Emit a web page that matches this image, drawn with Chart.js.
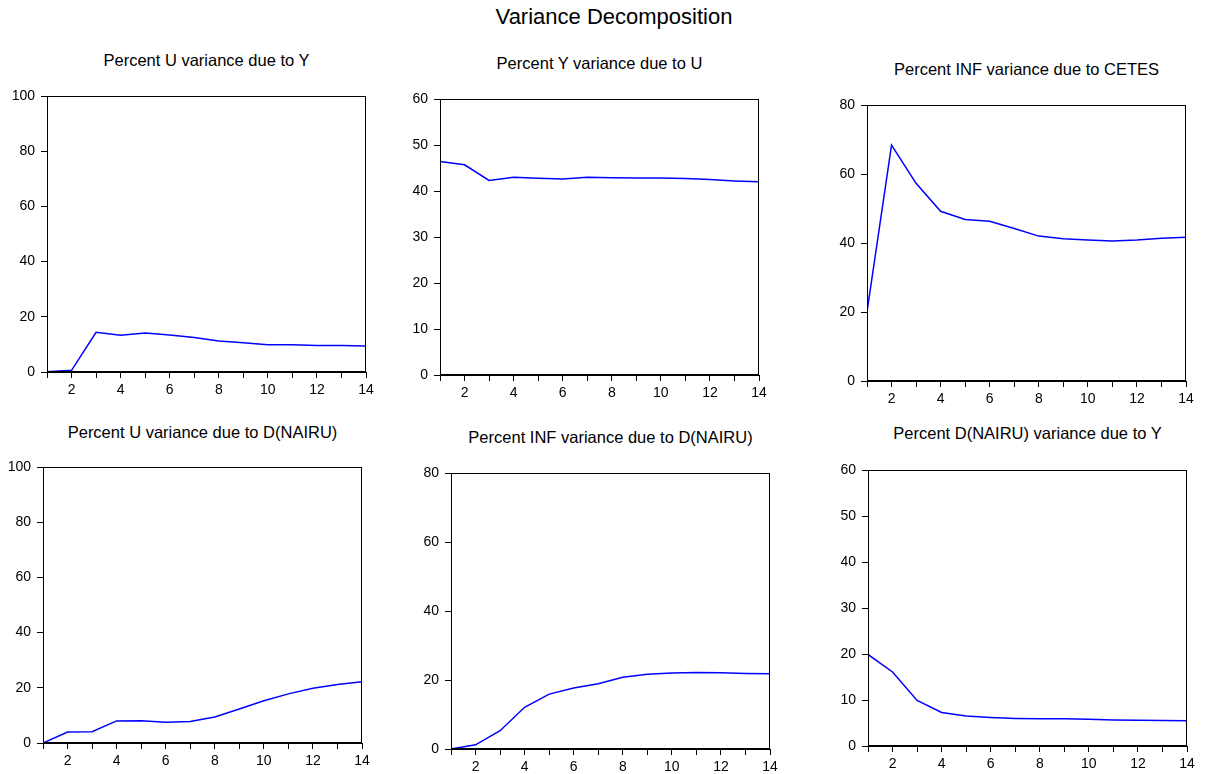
<!DOCTYPE html>
<html>
<head>
<meta charset="utf-8">
<title>Variance Decomposition</title>
<script src="https://cdn.jsdelivr.net/npm/chart.js@4.4.1/dist/chart.umd.min.js"></script>
<style>
  body { margin: 0; background: #fff; font-family: "Liberation Sans", Arial, sans-serif; }
  #page { position: relative; width: 1205px; height: 774px; overflow: hidden; }
  .title { position: absolute; transform: translate(-50%, -50%); white-space: nowrap; color: #000; line-height: 1; }
  .main-title { font-size: 22px; }
  .panel-title { font-size: 16.5px; }
  canvas { position: absolute; }
</style>
</head>
<body>
<div id="page"></div>
<script>
// --- DATA ---
const periods = [1, 2, 3, 4, 5, 6, 7, 8, 9, 10, 11, 12, 13, 14];
const xTickLabels = [2, 4, 6, 8, 10, 12, 14];

const mainTitle = 'Variance Decomposition';
const panelTitles = [
  'Percent U variance due to Y',
  'Percent Y variance due to U',
  'Percent INF variance due to CETES',
  'Percent U variance due to D(NAIRU)',
  'Percent INF variance due to D(NAIRU)',
  'Percent D(NAIRU) variance due to Y'
];

const uDueToY = [0.1, 0.6, 14.4, 13.3, 14.1, 13.4, 12.5, 11.2, 10.6, 9.9, 9.9, 9.6, 9.6, 9.4];
const yDueToU = [46.4, 45.7, 42.3, 43.0, 42.75, 42.6, 43.0, 42.9, 42.8, 42.8, 42.7, 42.5, 42.2, 42.0];
const infDueToCetes = [20.0, 68.4, 57.3, 49.2, 46.8, 46.3, 44.2, 42.0, 41.2, 40.9, 40.6, 40.9, 41.4, 41.7];
const uDueToNairu = [0.0, 4.0, 4.1, 8.0, 8.1, 7.5, 7.8, 9.4, 12.3, 15.3, 17.8, 19.8, 21.2, 22.2];
const infDueToNairu = [0.0, 1.2, 5.3, 12.1, 15.9, 17.7, 18.9, 20.8, 21.7, 22.0, 22.2, 22.1, 21.9, 21.8];
const nairuDueToY = [19.9, 16.1, 9.9, 7.3, 6.5, 6.2, 6.0, 5.9, 5.9, 5.8, 5.65, 5.6, 5.55, 5.5];

const panelSeries = [uDueToY, yDueToU, infDueToCetes, uDueToNairu, infDueToNairu, nairuDueToY];
const yAxisMax = [100, 60, 80, 100, 80, 60];
const yAxisStep = [20, 10, 20, 20, 20, 10];

// --- LAYOUT (pixel positions of each plot box and its title) ---
const PLOT_W = 319;
const PLOT_H = 276;
const AXIS_W = 50;   // room for y tick labels
const AXIS_H = 32;   // room for x tick labels
const PAD_TOP = 20;
const PAD_RIGHT = 18;

const plotBoxes = [
  { left: 47, top: 96, titleY: 60 },
  { left: 440, top: 99, titleY: 63 },
  { left: 867, top: 105, titleY: 69 },
  { left: 43, top: 467, titleY: 432 },
  { left: 451, top: 473, titleY: 437 },
  { left: 868, top: 470, titleY: 433 }
];

const FONT = '"Liberation Sans", Arial, sans-serif';
const page = document.getElementById('page');

// draws the closed box around the plot area
const frameBox = {
  id: 'frameBox',
  afterDraw(chart) {
    const { ctx, chartArea } = chart;
    ctx.save();
    ctx.strokeStyle = '#000';
    ctx.lineWidth = 1;
    ctx.strokeRect(Math.round(chartArea.left) + 0.5, Math.round(chartArea.top) + 0.5,
      Math.round(chartArea.right - chartArea.left) - 1, Math.round(chartArea.bottom - chartArea.top) - 1);
    ctx.restore();
  }
};

function addTitle(text, x, y, cls) {
  const div = document.createElement('div');
  div.className = 'title ' + cls;
  div.style.left = x + 'px';
  div.style.top = y + 'px';
  div.textContent = text;
  page.appendChild(div);
}

function makePanel(i) {
  const box = plotBoxes[i];
  const canvas = document.createElement('canvas');
  canvas.width = AXIS_W + PLOT_W + PAD_RIGHT;
  canvas.height = PAD_TOP + PLOT_H + AXIS_H;
  canvas.style.left = (box.left - AXIS_W) + 'px';
  canvas.style.top = (box.top - PAD_TOP) + 'px';
  page.appendChild(canvas);

  addTitle(panelTitles[i], box.left + PLOT_W / 2, box.titleY, 'panel-title');

  new Chart(canvas.getContext('2d'), {
    type: 'line',
    data: {
      datasets: [{
        data: periods.map((p, k) => ({ x: p, y: panelSeries[i][k] })),
        borderColor: '#0000ff',
        borderWidth: 1.5,
        pointRadius: 0,
        tension: 0,
        fill: false
      }]
    },
    options: {
      responsive: false,
      animation: false,
      devicePixelRatio: 1,
      layout: { padding: { top: PAD_TOP, right: PAD_RIGHT, left: 0, bottom: 0 } },
      plugins: { legend: { display: false }, tooltip: { enabled: false }, title: { display: false } },
      scales: {
        x: {
          type: 'linear',
          min: 1,
          max: 14,
          afterFit: (scale) => { scale.height = AXIS_H; },
          afterBuildTicks: (scale) => { scale.ticks = periods.map(v => ({ value: v })); },
          ticks: {
            autoSkip: false,
            maxRotation: 0,
            padding: 4,
            color: '#000',
            font: { family: FONT, size: 14 },
            callback: (v) => (xTickLabels.includes(v) ? String(v) : '')
          },
          grid: { drawOnChartArea: false, drawTicks: true, tickLength: 6, color: '#000', lineWidth: 1 },
          border: { display: true, color: '#000', width: 1 }
        },
        y: {
          min: 0,
          max: yAxisMax[i],
          afterFit: (scale) => { scale.width = AXIS_W; },
          ticks: {
            stepSize: yAxisStep[i],
            padding: 6,
            color: '#000',
            font: { family: FONT, size: 14 }
          },
          grid: { drawOnChartArea: false, drawTicks: true, tickLength: 6, color: '#000', lineWidth: 1 },
          border: { display: true, color: '#000', width: 1 }
        }
      }
    },
    plugins: [frameBox]
  });
}

addTitle(mainTitle, 614, 17, 'main-title');
for (let i = 0; i < panelTitles.length; i++) makePanel(i);
</script>
</body>
</html>
